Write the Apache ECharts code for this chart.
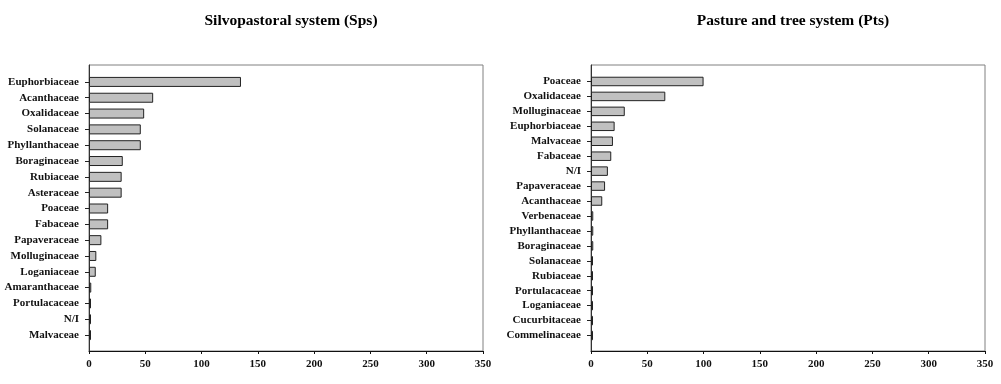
<!DOCTYPE html>
<html>
<head>
<meta charset="utf-8">
<script src="https://cdn.jsdelivr.net/npm/echarts@6/dist/echarts.min.js"></script>
<style>html,body{margin:0;padding:0;background:#fff}#c{width:1001px;height:384px}</style>
</head>
<body>
<div id="c"></div>
<script>
// Data
const spsTitle = 'Silvopastoral system (Sps)';
const ptsTitle = 'Pasture and tree system (Pts)';
const spsFamilies = ['Euphorbiaceae','Acanthaceae','Oxalidaceae','Solanaceae','Phyllanthaceae','Boraginaceae','Rubiaceae','Asteraceae','Poaceae','Fabaceae','Papaveraceae','Molluginaceae','Loganiaceae','Amaranthaceae','Portulacaceae','N/I','Malvaceae'];
const spsValues = [135, 57, 49, 46, 46, 30, 29, 29, 17, 17, 11, 6.5, 6, 2, 1, 1, 1];
const ptsFamilies = ['Poaceae','Oxalidaceae','Molluginaceae','Euphorbiaceae','Malvaceae','Fabaceae','N/I','Papaveraceae','Acanthaceae','Verbenaceae','Phyllanthaceae','Boraginaceae','Solanaceae','Rubiaceae','Portulacaceae','Loganiaceae','Cucurbitaceae','Commelinaceae'];
const ptsValues = [100, 66, 30, 21, 19.5, 18, 15, 12.5, 10, 2, 2, 2, 1, 1, 1, 1, 1, 1];
const xTicks = [0, 350, 50]; // min, max, interval

const FONT = 'Liberation Serif';
const chart = echarts.init(document.getElementById('c'));

function dataX(gi){
  return {gridIndex: gi, type:'value', min:xTicks[0], max:xTicks[1], interval:xTicks[2], offset:8,
    axisLine:{show:true, lineStyle:{color:'#111', width:1}},
    axisTick:{show:true, length:3, lineStyle:{color:'#111'}},
    axisLabel:{color:'#111', fontFamily:FONT, fontWeight:'bold', fontSize:11, margin:8},
    splitLine:{show:false}};
}
function dataY(gi, cats){
  return {gridIndex: gi, type:'category', data:cats, inverse:true,
    axisLine:{show:false},
    axisTick:{show:true, alignWithLabel:true, length:4, lineStyle:{color:'#222'}},
    axisLabel:{color:'#111', fontFamily:FONT, fontWeight:'bold', fontSize:11, margin:10},
    splitLine:{show:false}};
}
function frameX(gi){ return {gridIndex:gi, type:'value', show:false, min:0, max:1}; }
function frameY(gi){ return {gridIndex:gi, type:'value', min:0, max:1, z:0,
    axisLine:{show:true, onZero:false, lineStyle:{color:'#333', width:1}},
    axisTick:{show:false}, axisLabel:{show:false}, splitLine:{show:false}}; }

const barStyle = {color:'#c0c0c0', borderColor:'#222', borderWidth:1};

chart.setOption({
  animation:false,
  backgroundColor:'#fff',
  title:[
    {text:spsTitle, left:286, top:8, textAlign:'center', textStyle:{fontFamily:FONT, fontWeight:'bold', fontSize:15.5, color:'#000'}},
    {text:ptsTitle, left:788, top:8, textAlign:'center', textStyle:{fontFamily:FONT, fontWeight:'bold', fontSize:15.5, color:'#000'}}
  ],
  grid:[
    {left:89, right:518, top:74, height:269},
    {left:591, right:16, top:74, height:269},
    {left:89, right:518, top:65, bottom:33, show:true, borderColor:'#808080', borderWidth:1, backgroundColor:'transparent'},
    {left:591, right:16, top:65, bottom:33, show:true, borderColor:'#808080', borderWidth:1, backgroundColor:'transparent'}
  ],
  xAxis:[dataX(0), dataX(1), frameX(2), frameX(3)],
  yAxis:[dataY(0, spsFamilies), dataY(1, ptsFamilies), frameY(2), frameY(3)],
  series:[
    {type:'bar', xAxisIndex:0, yAxisIndex:0, data:spsValues, barWidth:10, barMinHeight:2, itemStyle:barStyle, z:10},
    {type:'bar', xAxisIndex:1, yAxisIndex:1, data:ptsValues, barWidth:9.5, barMinHeight:2, itemStyle:barStyle, z:10}
  ]
});
</script>
</body>
</html>
